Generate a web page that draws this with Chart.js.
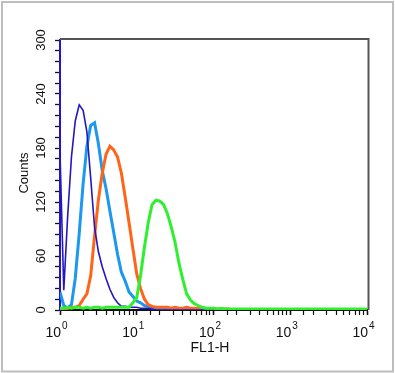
<!DOCTYPE html>
<html>
<head>
<meta charset="utf-8">
<script src="https://cdn.jsdelivr.net/npm/chart.js@4"></script>
<style>
  body { margin: 0; background: #fff; }
  canvas { display: block; }
</style>
</head>
<body>
<canvas id="histChart" width="395" height="373"></canvas>
<script>
// FL1-H channel values (log spaced bins)
const fl1 = [1.00, 1.12, 1.26, 1.41, 1.58, 1.78, 2.00, 2.24, 2.51, 2.82,
    3.16, 3.55, 3.98, 4.47, 5.01, 5.62, 6.31, 7.08, 7.94, 8.91,
    10.0, 11.2, 12.6, 14.1, 15.8, 17.8, 20.0, 22.4, 25.1, 28.2,
    31.6, 35.5, 39.8, 44.7, 50.1, 56.2, 63.1, 70.8, 79.4, 89.1,
    100, 112, 126, 141, 158, 178, 200, 316, 1000, 3160, 10000];

// counts per bin for each sample
const darkBlue = [175, 22, 105, 170, 210, 228, 222, 198, 147, 92,
    65, 48, 35, 23, 14, 8, 4, 4, 3, 3,
    3, 2, 2, 2, 1, 0, 0, 0, 0, 0,
    0, 0, 0, 0, 0, 0, 0, 0, 0, 0,
    0, 0, 0, 0, 0, 0, 0, 0, 0, 0, 0];
const lightBlue = [20, 5, 2, 6, 35, 85, 140, 182, 205, 208,
    185, 155, 135, 110, 86, 62, 42, 32, 20, 15,
    10, 8, 5, 4, 3, 2, 2, 1, 1, 0,
    0, 0, 0, 0, 0, 0, 0, 0, 0, 0,
    0, 0, 0, 0, 0, 0, 0, 0, 0, 0, 0];
const orange = [0, 1, 2, 3, 3, 5, 12, 18, 38, 82,
    122, 152, 173, 182, 178, 170, 152, 125, 97, 68,
    40, 24, 12, 6, 4, 3, 3, 3, 3, 2,
    3, 2, 2, 3, 2, 2, 2, 2, 2, 1,
    2, 1, 1, 1, 1, 0, 0, 0, 0, 0, 0];
const green = [2, 2, 3, 2, 3, 3, 2, 3, 2, 3,
    3, 2, 3, 3, 3, 3, 3, 3, 3, 8,
    14, 38, 70, 97, 117, 122, 121, 117, 107, 92,
    75, 52, 34, 18, 11, 7, 5, 3, 2, 2,
    2, 1, 2, 1, 1, 1, 1, 1, 1, 1, 1];

const yLabels = [0, 60, 120, 180, 240, 300];
const xExponents = [0, 1, 2, 3, 4];

const FONT = "Arial, 'Liberation Sans', Helvetica, sans-serif";

function points(counts) {
    return fl1.map((v, i) => ({ x: v, y: counts[i] }));
}

// Draws the frame, rotated y labels, 10^n x labels and axis titles
const decorations = {
    id: 'decorations',
    afterDraw(chart) {
        const ctx = chart.ctx;
        const area = chart.chartArea;
        const xs = chart.scales.x;
        const ys = chart.scales.y;
        ctx.save();

        // outer grey frame
        ctx.strokeStyle = '#bdbdbd';
        ctx.lineWidth = 2;
        ctx.strokeRect(2, 2, 391, 369.5);

        // top and right plot border
        ctx.strokeStyle = '#555';
        ctx.lineWidth = 2;
        ctx.beginPath();
        ctx.moveTo(area.left, area.top - 1);
        ctx.lineTo(area.right + 1.5, area.top - 1);
        ctx.lineTo(area.right + 1.5, area.bottom);
        ctx.stroke();

        ctx.fillStyle = '#111';

        // y tick labels, vertical
        ctx.font = '13px ' + FONT;
        ctx.textAlign = 'center';
        ctx.textBaseline = 'middle';
        yLabels.forEach(v => {
            const y = ys.getPixelForValue(v);
            ctx.save();
            ctx.translate(41, y);
            ctx.rotate(-Math.PI / 2);
            ctx.fillText(String(v), 0, 0);
            ctx.restore();
        });

        // y title
        ctx.save();
        ctx.translate(24, 173);
        ctx.rotate(-Math.PI / 2);
        ctx.fillText('Counts', 0, 0);
        ctx.restore();

        // x tick labels 10^n
        ctx.textBaseline = 'alphabetic';
        xExponents.forEach(e => {
            const x = xs.getPixelForValue(Math.pow(10, e));
            ctx.font = '14px ' + FONT;
            ctx.textAlign = 'right';
            ctx.fillText('10', x + 1, 337);
            ctx.font = '10px ' + FONT;
            ctx.textAlign = 'left';
            ctx.fillText(String(e), x + 2, 329);
        });

        // x title
        ctx.font = '14px ' + FONT;
        ctx.textAlign = 'center';
        ctx.textBaseline = 'middle';
        ctx.fillText('FL1-H', 210, 348);

        ctx.restore();
    }
};

const ctx = document.getElementById('histChart').getContext('2d');
new Chart(ctx, {
    type: 'line',
    data: {
        datasets: [
            { label: 'green', data: points(green), borderColor: '#2ff02f', borderWidth: 3 },
            { label: 'dark blue', data: points(darkBlue), borderColor: '#2416c0', borderWidth: 1.6 },
            { label: 'orange', data: points(orange), borderColor: '#ff6418', borderWidth: 3 },
            { label: 'light blue', data: points(lightBlue), borderColor: '#1d97f0', borderWidth: 3 }
        ]
    },
    options: {
        responsive: false,
        animation: false,
        layout: { padding: { top: 40, right: 28, left: 0, bottom: 0 } },
        elements: {
            point: { radius: 0 },
            line: { tension: 0, fill: false }
        },
        plugins: {
            legend: { display: false },
            tooltip: { enabled: false }
        },
        scales: {
            x: {
                type: 'logarithmic',
                min: 1,
                max: 10000,
                ticks: { display: false },
                grid: {
                    drawOnChartArea: false,
                    drawTicks: true,
                    tickLength: 5,
                    tickColor: '#111',
                    tickWidth: (c) => {
                        const v = c.tick ? c.tick.value : 0;
                        return Number.isInteger(Math.log10(v)) ? 1.6 : 1.2;
                    }
                },
                border: { color: '#111', width: 2 },
                afterFit(scale) { scale.height = 63; }
            },
            y: {
                min: 0,
                max: 300,
                ticks: { display: false, stepSize: 12 },
                grid: {
                    drawOnChartArea: false,
                    drawTicks: true,
                    tickLength: 5,
                    tickColor: '#111',
                    tickWidth: 1.3
                },
                border: { color: '#2416c0', width: 2 },
                afterFit(scale) { scale.height; scale.width = 60; }
            }
        }
    },
    plugins: [decorations]
});
</script>
</body>
</html>
